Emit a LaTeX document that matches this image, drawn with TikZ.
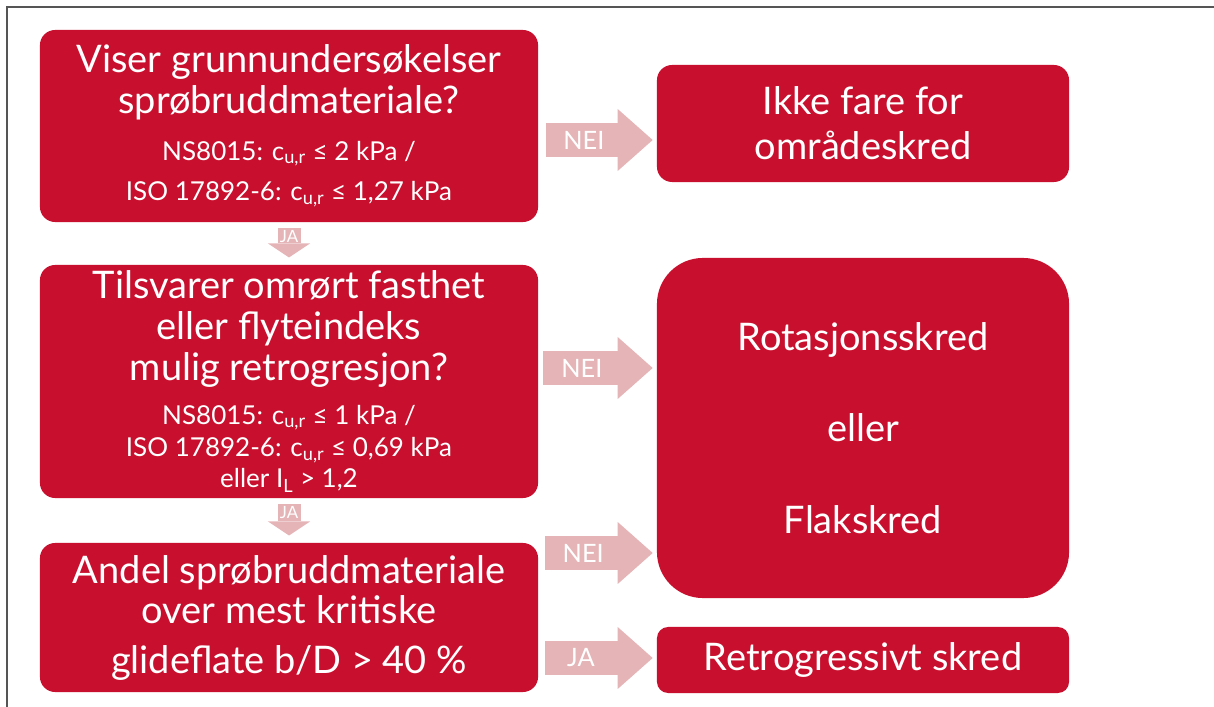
\documentclass[tikz,border=0pt]{standalone}
\usepackage{fontspec}
\setmainfont{Lato}
\usetikzlibrary{arrows.meta,positioning,calc}
\definecolor{boxred}{RGB}{200,16,46}
\definecolor{arrowpink}{RGB}{229,180,183}
\definecolor{framegray}{RGB}{85,85,85}
\newcommand{\smalltxt}{\fontsize{18.5}{29}\selectfont}
\newcommand{\cur}{c\textsubscript{u,r}}
\tikzset{
  flow/box/.style={fill=boxred, rounded corners=0.38cm, text=white, align=center, inner sep=0pt, minimum width=12.45cm, font=\fontsize{27}{29}\selectfont},
  flow/result/.style={flow/box, minimum width=10.3cm},
  flow/side/.style={draw=arrowpink, line width=0.85cm, -{Triangle[width=1.55cm, length=0.875cm, line width=0pt]}, shorten >=0.1cm},
  flow/down/.style={draw=arrowpink, line width=0.575cm, -{Triangle[width=1.05cm, length=0.35cm, line width=0pt]}, shorten <=0.15cm, shorten >=0.18cm},
  flow/tag/.style={text=white, inner sep=0pt, font=\fontsize{18}{18}\selectfont},
  flow/smalltag/.style={flow/tag, font=\fontsize{12}{12}\selectfont}
}
\begin{document}
\begin{tikzpicture}[x=0.025cm, y=-0.025cm]
  \useasboundingbox (0,0) rectangle (1214,707);
  \draw[framegray, line width=1.2pt] (7,707) -- (7,7) -- (1214,7);

  % Questions on the left
  \node[flow/box, minimum height=4.8cm] (q1) at (289,126)
    {Viser grunnundersøkelser\\ sprøbruddmateriale?\\[4pt]
     {\smalltxt NS8015: \cur{} ≤ 2 kPa /}\\
     {\smalltxt ISO 17892-6: \cur{} ≤ 1,27 kPa}};
  \node[flow/box, minimum height=5.825cm] (q2) at (289,381.5)
    {Tilsvarer omrørt fasthet\\ eller flyteindeks\\ mulig retrogresjon?\\[2pt]
     {\smalltxt NS8015: \cur{} ≤ 1 kPa /}\\[-6pt]
     {\smalltxt ISO 17892-6: \cur{} ≤ 0,69 kPa}\\[-7pt]
     {\smalltxt eller I\textsubscript{L} > 1,2}};
  \node[flow/box, minimum height=3.725cm] (q3) at (289,617.5)
    {Andel sprøbruddmateriale\\ over mest kritiske\\[6pt] glideflate b/D > 40 \%};

  % Outcomes on the right
  \node[flow/result, minimum height=2.925cm] (safe) at (863,123.5)
    {Ikke fare for\\[3pt] områdeskred};
  \node[flow/result, rounded corners=1.15cm, minimum height=8.5cm] (rot) at (863,428)
    {Rotasjonsskred\\[36pt] eller\\[36pt] Flakskred};
  \node[flow/result, rounded corners=0.28cm, minimum height=1.65cm] (retro) at (863,660)
    {Retrogressivt skred};

  % Start points of the side arrows
  \coordinate (s1) at ([shift={(8,14)}]q1.east);
  \coordinate (s2) at ([shift={(5,-13.5)}]q2.east);
  \coordinate (s3) at ([shift={(7,-64.5)}]q3.east);
  \coordinate (s4) at ([shift={(7,40.5)}]q3.east);

  \draw[flow/side] (s1) -- (s1 -| safe.west) node[flow/tag, pos=0.34] {NEI};
  \draw[flow/side] (s2) -- (s2 -| rot.west) node[flow/tag, pos=0.34] {NEI};
  \draw[flow/side] (s3) -- (s3 -| rot.west) node[flow/tag, pos=0.34] {NEI};
  \draw[flow/side] (s4) -- (s4 -| retro.west) node[flow/tag, pos=0.32] {JA};

  \draw[flow/down] (q1) -- (q2) node[flow/smalltag, pos=0.33] {JA};
  \draw[flow/down] (q2) -- (q3) node[flow/smalltag, pos=0.33] {JA};
\end{tikzpicture}
\end{document}
